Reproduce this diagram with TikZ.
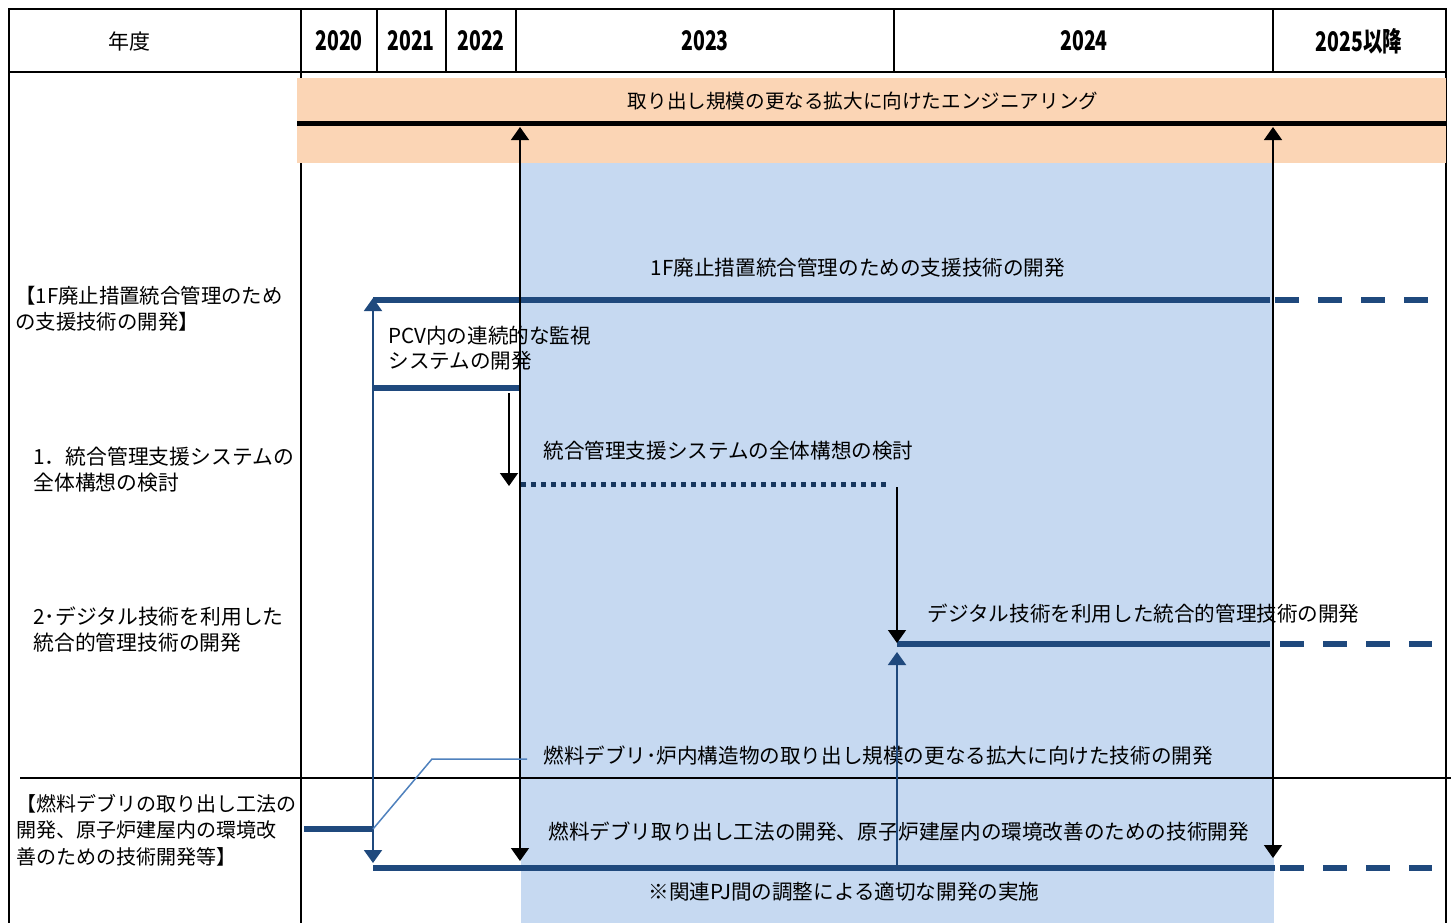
\documentclass[tikz,border=0pt]{standalone}
\usepackage{fontspec}
\setmainfont{Noto Sans CJK JP}
\newfontfamily\yearfont[FakeStretch=0.72]{Noto Sans CJK JP}
\usetikzlibrary{arrows.meta}
\definecolor{bandpeach}{HTML}{FBD5B5}
\definecolor{periodblue}{HTML}{C6D9F1}
\definecolor{barnavy}{HTML}{1F497D}
\definecolor{dotnavy}{HTML}{17375E}
\definecolor{calloutblue}{HTML}{4F81BD}
\tikzset{
  tabline/.style={line width=0.75pt},
  hdrtext/.style={inner sep=0pt,font=\fontsize{10.5}{12}\selectfont},
  yeartext/.style={inner sep=0pt,font=\yearfont\bfseries\fontsize{13.5}{15}\selectfont},
  jtext/.style={inner sep=0pt,anchor=west,align=left,font=\fontsize{10.3}{13.2}\selectfont},
  rowtext/.style={jtext,font=\fontsize{10.4}{13.2}\selectfont},
  bar/.style={barnavy,line width=3pt},
  barlater/.style={bar,dash pattern=on 12pt off 9.5pt},
  bardotted/.style={dotnavy,line width=2.5pt,dash pattern=on 2.5pt off 2.5pt},
  blkarrow/.style={line width=0.75pt},
  bluearrow/.style={barnavy,line width=1pt}
}

\begin{document}
\begin{tikzpicture}[x=0.5pt,y=-0.5pt,>={Triangle[width=9pt,length=6.5pt]}]
\useasboundingbox (0,0) rectangle (1451,923);
\fill[periodblue] (521,163) rectangle (1274,923); %2023-2024 period
\draw[tabline] (9,9) rectangle (1446,72); %header row
\draw[tabline] (377,9) -- (377,72);
\draw[tabline] (446,9) -- (446,72);
\draw[tabline] (516,9) -- (516,72);
\draw[tabline] (894,9) -- (894,72);
\draw[tabline] (1273,9) -- (1273,72);
\draw[tabline] (9,72) -- (9,923); %body columns
\draw[tabline] (301,9) -- (301,923);
\draw[tabline] (1446,72) -- (1446,923);
\draw[tabline] (20,778) -- (1451,778);
\fill[bandpeach] (297,78) rectangle (1446,163); %engineering band
\draw[line width=2.5pt] (297,123) -- (1446,123);
\node[hdrtext] (nendo) at (129,41) {年度}; %header texts
\node[yeartext] (y2020) at (339,41) {2020};
\node[yeartext] (y2021) at (411,41) {2021};
\node[yeartext] (y2022) at (481,41) {2022};
\node[yeartext] (y2023) at (705,41) {2023};
\node[yeartext] (y2024) at (1084,41) {2024};
\node[yeartext] (y2025) at (1359,41) {2025以降};
\node[jtext,anchor=center,font=\fontsize{9.8}{12}\selectfont] (eng) at (863,101) {取り出し規模の更なる拡大に向けたエンジニアリング};
\node[rowtext,font=\fontsize{10.2}{13.2}\selectfont] (rowA) at (15,309) {【1F廃止措置統合管理のため\\の支援技術の開発】}; %left column
\node[rowtext] (rowA1) at (33,469.5) {1．統合管理支援システムの\\全体構想の検討};
\node[rowtext] (rowA2) at (33,629.5) {2･デジタル技術を利用した\\統合的管理技術の開発};
\node[rowtext,font=\fontsize{10}{13.2}\selectfont] (rowB) at (16,830) {【燃料デブリの取り出し工法の\\開発、原子炉建屋内の環境改\\善のための技術開発等】};
\node[jtext,anchor=center] (supportT) at (858,268) {1F廃止措置統合管理のための支援技術の開発}; %bar texts
\node[jtext,font=\fontsize{10.3}{12.2}\selectfont] (pcvT) at (388,348) {PCV内の連続的な監視\\システムの開発};
\node[jtext] (conceptT) at (543,451) {統合管理支援システムの全体構想の検討};
\node[jtext] (digitalT) at (927,614) {デジタル技術を利用した統合的管理技術の開発};
\node[jtext] (scaleT) at (543,756) {燃料デブリ･炉内構造物の取り出し規模の更なる拡大に向けた技術の開発};
\node[jtext] (methodT) at (548,832) {燃料デブリ取り出し工法の開発、原子炉建屋内の環境改善のための技術開発};
\node[jtext,anchor=center] (adjustT) at (844,892) {※関連PJ間の調整による適切な開発の実施};
\coordinate (supS) at (373,300); %bar ends
\coordinate (supE) at (1270,300);
\coordinate (supL) at (1275,300);
\coordinate (supR) at (1446,300);
\coordinate (pcvS) at (373,388);
\coordinate (pcvE) at (521,388);
\coordinate (conS) at (521,484);
\coordinate (conE) at (890,484);
\coordinate (digS) at (897,644);
\coordinate (digE) at (1270,644);
\coordinate (digL) at (1280,644);
\coordinate (digR) at (1432,644);
\coordinate (feedS) at (304,829);
\coordinate (feedE) at (373,829);
\coordinate (fuelS) at (373,868);
\coordinate (fuelE) at (1275,868);
\coordinate (fuelL) at (1280,868);
\coordinate (fuelR) at (1432,868);
\draw[bar] (supS) -- (supE);
\draw[barlater] (supL) -- (supR);
\draw[bar] (pcvS) -- (pcvE);
\draw[bardotted] (conS) -- (conE);
\draw[bar] (digS) -- (digE);
\draw[barlater] (digL) -- (digR);
\draw[bar] (feedS) -- (feedE);
\draw[bar] (fuelS) -- (fuelE);
\draw[barlater] (fuelL) -- (fuelR);
\coordinate (engA) at (520,127); %arrows
\coordinate (engB) at (1273,127);
\coordinate (fuelA) at (520,861);
\coordinate (fuelB) at (1273,858);
\coordinate (supA) at (373,298);
\coordinate (fuelC) at (373,863);
\coordinate (pcvA) at (509,393);
\coordinate (conA) at (509,486);
\coordinate (conB) at (897,487);
\coordinate (digA) at (897,643);
\coordinate (digB) at (897,652);
\coordinate (fuelD) at (897,868);
\draw[blkarrow,<->] (engA) -- (fuelA);
\draw[blkarrow,<->] (engB) -- (fuelB);
\draw[bluearrow,<->] (supA) -- (fuelC);
\draw[blkarrow,->] (pcvA) -- (conA);
\draw[blkarrow,->] (conB) -- (digA);
\draw[bluearrow,->] (fuelD) -- (digB);
\coordinate (callA) at (527,759); %callout
\coordinate (callB) at (432,759);
\draw[calloutblue,line width=0.75pt] (callA) -- (callB) -- (feedE);
\end{tikzpicture}
\end{document}
